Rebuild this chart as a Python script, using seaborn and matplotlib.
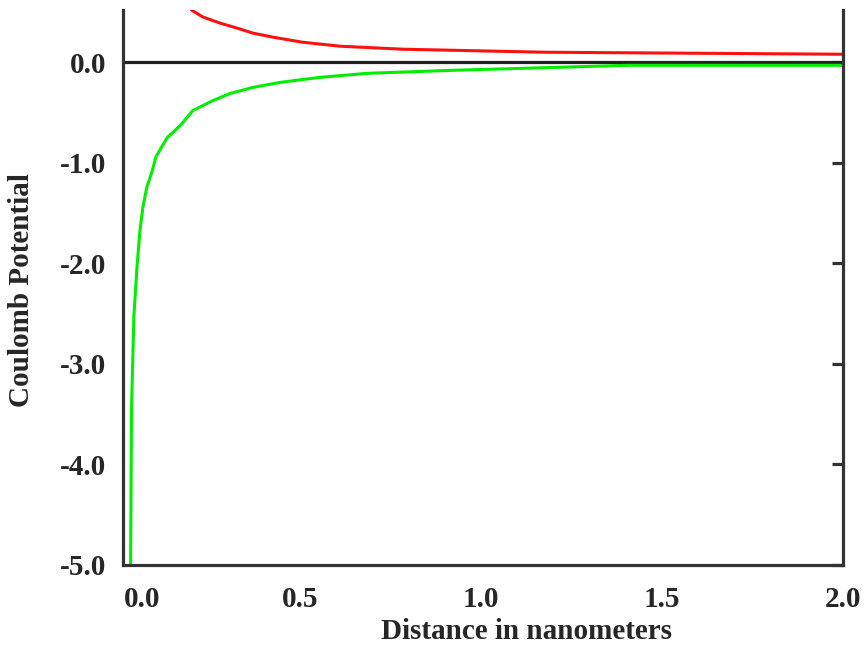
import matplotlib
matplotlib.use("Agg")
import matplotlib.pyplot as plt
import matplotlib.transforms as mtransforms
import pandas as pd
import seaborn as sns

# values
green_x = [0.032, 0.0345, 0.041, 0.050, 0.058, 0.066, 0.077, 0.091, 0.102, 0.133,
           0.169, 0.204, 0.26, 0.307, 0.37, 0.445, 0.555, 0.685, 0.92, 1.406, 2.0]
green_y = [-5.0, -3.46, -2.53, -2.02, -1.67, -1.44, -1.24, -1.09, -0.94, -0.75,
           -0.63, -0.48, -0.38, -0.31, -0.25, -0.20, -0.15, -0.11, -0.08, -0.03, -0.03]

red_x = [0.20, 0.232, 0.279, 0.326, 0.37, 0.425, 0.506, 0.61, 0.785, 1.177, 2.0]
red_y = [0.52, 0.45, 0.39, 0.34, 0.29, 0.25, 0.20, 0.16, 0.13, 0.10, 0.08]

x_ticks = [0.011, 0.5, 1.0, 1.5, 2.0]
x_tick_labels = ["0.0", "0.5", "1.0", "1.5", "2.0"]
y_ticks = [0.0, -1.0, -2.0, -3.0, -4.0, -5.0]
y_tick_labels = ["0.0", "-1.0", "-2.0", "-3.0", "-4.0", "-5.0"]

df = pd.concat([
    pd.DataFrame({"r": green_x, "V": green_y, "charge": "opposite"}),
    pd.DataFrame({"r": red_x, "V": red_y, "charge": "like"}),
])

sns.set_style("white")
plt.rcParams["font.family"] = ["Liberation Serif", "DejaVu Serif"]

fig = plt.figure(figsize=(8.64, 6.6), dpi=100)
ax = fig.add_axes([123 / 864, 95 / 660, 720 / 864, 555 / 660])

sns.lineplot(data=df, x="r", y="V", hue="charge", sort=False,
             palette={"opposite": "#00ee00", "like": "#ff1010"},
             linewidth=2.2, legend=False, ax=ax, estimator=None)

ax.axhline(0.0, color="#222222", linewidth=2.3, zorder=1)

ax.set_xlim(0.011, 2.0)
ax.set_ylim(-5.0, 0.52)

ax.set_xticks(x_ticks)
ax.set_xticklabels(x_tick_labels)
ax.set_yticks(y_ticks)
ax.set_yticklabels(y_tick_labels)

for side in ["left", "right", "bottom"]:
    ax.spines[side].set_color("#333333")
    ax.spines[side].set_linewidth(2.3)
ax.spines["top"].set_visible(False)

ax.tick_params(axis="both", direction="in", length=8, width=2.3, color="#333333",
               labelsize=21, pad=14)
ax.tick_params(axis="x", pad=15)
ax.tick_params(axis="y", right=True, labelright=False, pad=12)
for lbl in ax.get_xticklabels() + ax.get_yticklabels():
    lbl.set_fontweight("bold")

# first x label sits right of the axis corner in the reference
first = ax.get_xticklabels()[0]
first.set_transform(first.get_transform() +
                    mtransforms.ScaledTranslation(19 / 100, 0, fig.dpi_scale_trans))

ax.set_xlabel("Distance in nanometers", fontsize=21, fontweight="bold")
ax.set_ylabel("Coulomb Potential", fontsize=21, fontweight="bold")
ax.xaxis.set_label_coords(0.561, -0.095)
ax.yaxis.set_label_coords(-0.122, 0.495)

fig.savefig("out.png", dpi=100)
